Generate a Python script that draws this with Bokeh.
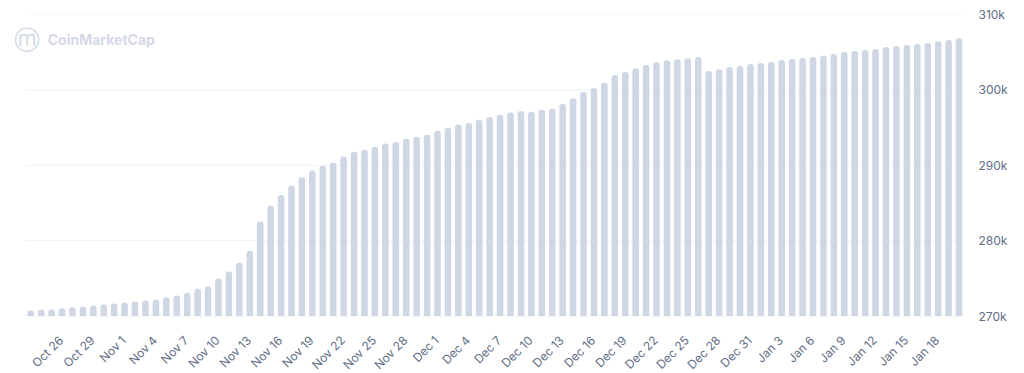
import math
from bokeh.plotting import figure
from bokeh.models import Range1d, FixedTicker, NumeralTickFormatter, ColumnDataSource, Label
from bokeh.core.properties import value
from bokeh.embed import file_html
from bokeh.resources import INLINE

# categories (days), series values (thousands), tick labels
day_index = list(range(90))
values_k = [
    270.73, 270.86, 270.86, 271.03, 271.17, 271.26, 271.39, 271.52, 271.66, 271.79,
    271.92, 272.05, 272.19, 272.45, 272.72, 273.10, 273.64, 273.90, 274.97, 275.89,
    277.08, 278.67, 282.56, 284.65, 286.05, 287.33, 288.40, 289.30, 289.93, 290.37,
    291.17, 291.79, 292.05, 292.45, 292.89, 293.10, 293.50, 293.77, 294.04, 294.57,
    294.97, 295.40, 295.60, 296.03, 296.40, 296.70, 296.99, 297.20, 297.09, 297.35,
    297.48, 298.15, 298.90, 299.73, 300.26, 300.93, 301.99, 302.38, 302.87, 303.31,
    303.66, 303.93, 304.06, 304.20, 304.37, 302.52, 302.74, 303.05, 303.18, 303.44,
    303.58, 303.71, 303.97, 304.10, 304.24, 304.37, 304.54, 304.77, 305.03, 305.17,
    305.30, 305.43, 305.70, 305.83, 305.96, 306.09, 306.23, 306.45, 306.62, 306.85,
]
tick_positions = list(range(3, 90, 3))
tick_labels = [
    "Oct 26", "Oct 29", "Nov 1", "Nov 4", "Nov 7", "Nov 10", "Nov 13", "Nov 16",
    "Nov 19", "Nov 22", "Nov 25", "Nov 28", "Dec 1", "Dec 4", "Dec 7", "Dec 10",
    "Dec 13", "Dec 16", "Dec 19", "Dec 22", "Dec 25", "Dec 28", "Dec 31", "Jan 3",
    "Jan 6", "Jan 9", "Jan 12", "Jan 15", "Jan 18",
]
y_ticks = [270000, 280000, 290000, 300000, 310000]

values = [v * 1000 for v in values_k]
src = ColumnDataSource(dict(x=day_index, top=values))

x_lo = day_index[0] - 0.5
x_hi = day_index[-1] + 0.5
y_min, y_max = y_ticks[0], y_ticks[-1]

# frame spans from top border to the bottom of the canvas; the value axis
# bottom (270k) sits at pixel 315.5, the date labels are drawn below it
H, TOP, BASE = 373, 14, 315.5
y_start = y_min - (y_max - y_min) * (H - BASE) / (BASE - TOP)

p = figure(width=1024, height=H, output_backend="svg", toolbar_location=None,
           x_range=Range1d(-1.94, 89.43), y_range=Range1d(y_start, y_max),
           y_axis_location="right", x_axis_location=None,
           min_border_left=10, min_border_right=61,
           min_border_top=TOP, min_border_bottom=0)
p.outline_line_color = None
p.background_fill_color = "white"
p.border_fill_color = "white"

# horizontal grid lines (only across the bar area)
p.grid.visible = False
p.segment(x0=[x_lo] * len(y_ticks), x1=[x_hi] * len(y_ticks), y0=y_ticks, y1=y_ticks,
          line_color="#eff2f5", line_width=1, level="underlay")

p.vbar(x="x", top="top", bottom=y_min, width=0.63, source=src,
       fill_color="#cfd6e4", line_color=None, border_radius=(3, 3, 0, 0))

yax = p.yaxis[0]
yax.ticker = FixedTicker(ticks=y_ticks)
yax.formatter = NumeralTickFormatter(format="0a")
yax.axis_line_color = None
yax.major_tick_line_color = None
yax.minor_tick_line_color = None
yax.major_tick_out = 0
yax.major_tick_in = 0
yax.minor_tick_out = 0
yax.major_label_standoff = 15
yax.major_label_text_font = "Inter"
yax.major_label_text_font_size = "12px"
yax.major_label_text_color = "#616e85"

# date tick labels (rotated 45 degrees)
p.text(x=tick_positions, y=[y_min] * len(tick_positions), text=tick_labels,
       angle=math.pi / 4, text_align="right", text_baseline="middle",
       x_offset=-1, y_offset=22,
       text_font=value("Inter"), text_font_size="12px", text_color="#616e85")

# watermark
p.add_layout(Label(x=-0.34, y=306650, text="ⓜ", text_font="DejaVu Sans",
                   text_font_size="26px", text_color="#d3d9e6",
                   text_align="center", text_baseline="middle"))
p.add_layout(Label(x=1.63, y=306650, text="CoinMarketCap", text_font="Inter",
                   text_font_style="bold", text_font_size="14px", text_color="#d3d9e6",
                   text_align="left", text_baseline="middle"))

open("out.html", "w").write(file_html(p, INLINE))
